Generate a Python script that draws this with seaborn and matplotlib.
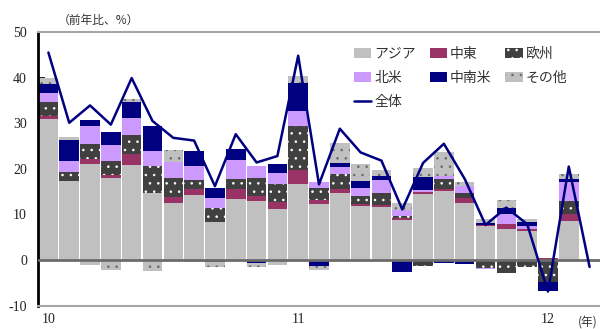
import numpy as np
import pandas as pd
import matplotlib
matplotlib.use("Agg")
import matplotlib.pyplot as plt
from matplotlib.lines import Line2D
import seaborn as sns

# Monthly export growth (y/y, %) from Jan 2010, contributions by destination
year_ticks = [0, 12, 24]
year_labels = ["10", "11", "12"]

asia = [30.9, 17.4, 21.1, 18.0, 20.9, 14.8, 12.6, 14.2, 8.3, 13.4, 13.0, 11.2,
        16.7, 12.3, 14.8, 11.8, 11.6, 8.8, 14.5, 15.2, 12.6, 7.4, 6.9, 6.4, 0.0, 8.55]
middle_east = [0.7, -0.3, 1.0, 0.65, 2.4, 0.0, 1.3, 1.3, -0.4, 2.2, 1.0, 1.5,
               3.1, 0.95, 0.8, 0.4, 0.45, 0.45, 0.4, 0.45, 1.0, 0.2, 1.0, 0.45, 0.35, 1.5]
europe = [3.0, 2.0, 3.3, 3.0, 4.2, 5.8, 4.2, 2.0, 3.1, 2.2, 4.0, 4.0,
          9.6, 2.6, 3.3, 1.9, 2.7, 0.5, -1.3, 2.1, 1.1, -1.7, -2.8, -1.6, -4.9, 2.9]
north_america = [2.0, 2.3, 4.0, 3.5, 3.6, 3.3, 3.5, 3.1, 2.2, 4.2, 2.6, 2.4,
                 3.3, 1.3, 1.5, 1.7, 2.8, 1.3, 0.5, 0.65, 1.5, -0.25, 2.3, 0.6, 0.0, 4.2]
latin_america = [2.0, 4.7, 1.3, 2.9, 3.5, 5.5, 0.0, 3.3, 2.3, 2.4, -0.6, 2.0,
                 6.1, -1.3, 0.9, 1.6, 0.9, -2.6, 2.8, -0.6, -0.8, 0.5, 1.2, 0.95, -1.8, 0.7]
others = [1.3, 0.5, -1.0, -2.1, 0.7, -2.3, 2.5, -0.5, -1.1, 0.0, -1.0, -1.0,
          1.5, -0.9, 4.4, 3.7, 1.2, 1.4, 2.0, 5.3, 1.0, 0.9, 1.8, 0.6, 0.0, 1.0]
total = [45.5, 30.1, 33.9, 29.7, 39.9, 30.5, 26.8, 26.2, 16.2, 27.6, 21.4, 22.8,
         44.8, 16.6, 28.8, 23.6, 21.8, 11.1, 21.3, 25.5, 17.8, 7.7, 11.5, 7.9, -6.9, 20.5, -1.5]

series_names = ["アジア", "中東", "欧州", "北米", "中南米", "その他"]

sns.set_theme(style="white")
plt.rcParams["font.family"] = ["Liberation Serif", "Noto Sans CJK JP"]
plt.rcParams["hatch.linewidth"] = 0.6

fig = plt.figure(figsize=(6.0, 3.29), dpi=100)
ax = fig.add_axes([38 / 600, 1 - 305.7 / 329, 562 / 600, (305.7 - 32) / 329])

# fill colour, hatch colour, hatch pattern for each destination
styles = [
    ("#c0c0c0", "#c0c0c0", None),
    ("#993366", "#993366", None),
    ("#404040", "#ffffff", ".."),
    ("#cc99ff", "#cc99ff", None),
    ("#000080", "#000080", None),
    ("#c0c0c0", "#6a6a6a", ".."),
]
components = [asia, middle_east, europe, north_america, latin_america, others]

n_bars = len(asia)
xb = np.arange(n_bars)
pos = np.zeros(n_bars)
neg = np.zeros(n_bars)
containers = []
for name, vals, (fc, hc, hatch) in zip(series_names, components, styles):
    v = np.asarray(vals, dtype=float)
    bottom = np.where(v >= 0, pos, neg)
    bc = ax.bar(xb, v, bottom=bottom, width=0.94, color=fc, edgecolor=hc,
                hatch=hatch, linewidth=0, label=name, zorder=2)
    containers.append(bc)
    pos += np.clip(v, 0, None)
    neg += np.clip(v, None, 0)

df = pd.DataFrame({"month": np.arange(len(total)), "total": total})
sns.lineplot(data=df, x="month", y="total", color="#000080", linewidth=1.8,
             ax=ax, zorder=4, legend=False)

ax.axhline(0, color="#6b6b6b", linewidth=2.0, zorder=3)

ax.set_xlim(-0.5, 26.5)
ax.set_ylim(-10, 50)
ax.set_yticks(range(-10, 51, 10))
ax.set_yticklabels([str(t) for t in range(-10, 51, 10)])
ax.set_xticks(year_ticks)
ax.set_xticklabels(year_labels)
ax.set_xlabel("")
ax.set_ylabel("")
ax.tick_params(axis="y", direction="in", length=5, width=1.2, color="black",
               pad=8, labelsize=10, labelcolor="#222222", left=True)
ax.tick_params(axis="x", length=0, pad=5.5, labelsize=10, labelcolor="#222222")

ax.spines["left"].set_color("black")
ax.spines["left"].set_linewidth(2.0)
ax.spines["top"].set_color("#a6a6a6")
ax.spines["top"].set_linewidth(1.5)
ax.spines["bottom"].set_color("#a6a6a6")
ax.spines["bottom"].set_linewidth(1.5)
ax.spines["right"].set_visible(False)

line_handle = Line2D([], [], color="#000080", linewidth=1.8)
handles = [containers[0], containers[3], line_handle,
           containers[1], containers[4],
           containers[2], containers[5]]
labels = [series_names[0], series_names[3], "全体",
          series_names[1], series_names[4],
          series_names[2], series_names[5]]
leg = fig.legend(handles, labels, ncol=3, loc="upper left",
                 bbox_to_anchor=(354 / 600, 1 - 47 / 329),
                 frameon=False, borderpad=0, borderaxespad=0,
                 handlelength=1.25, handleheight=0.68, handletextpad=0.2,
                 columnspacing=1.0, labelspacing=0.72,
                 prop={"family": ["Noto Sans CJK JP"], "size": 10})
for t in leg.get_texts():
    t.set_color("#333333")

fig.text(58 / 600, 1 - 20 / 329, "（前年比、%）", family=["Noto Sans CJK JP"],
         fontsize=8.5, color="#333333", va="center", ha="left")
fig.text(598 / 600, 1 - 322 / 329, "(年)", family=["Noto Sans CJK JP"],
         fontsize=8.5, color="#333333", va="center", ha="right")

fig.savefig("out.png", dpi=100, facecolor="white")
